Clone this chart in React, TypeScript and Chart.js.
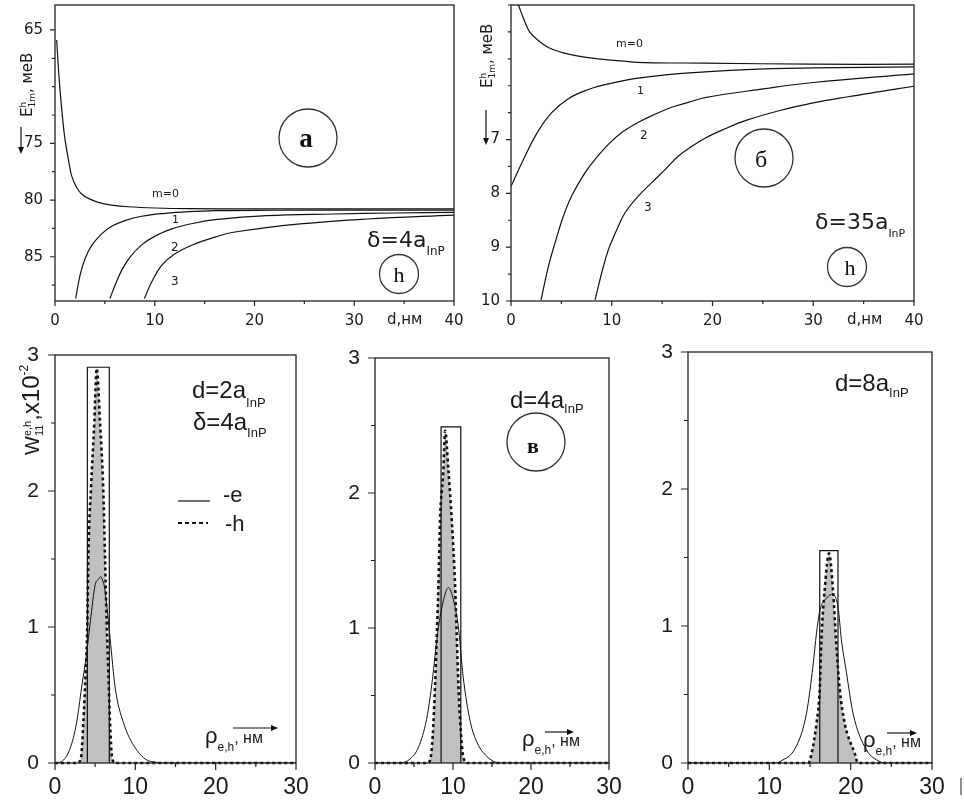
import React, { useEffect, useRef } from 'react';
import { Chart, registerables } from 'chart.js';
Chart.register(...registerables);

// ---------------- Panel (a): delta = 4a_InP ----------------
const aXLabels = [0, 10, 20, 30, 40];
const aYLabels = [65, 75, 80, 85];
const aM0D = [0.17, 0.33, 0.5, 0.74, 1.0, 1.34, 1.67, 2.17, 2.67, 3.34, 4.34, 5.68, 7.35, 10.03, 13.37, 20, 30, 40];
const aM0E = [65.88, 68.22, 70.26, 72.6, 74.65, 76.4, 77.87, 78.89, 79.47, 79.85, 80.2, 80.44, 80.59, 80.7, 80.76, 80.78, 80.78, 80.78];
const aM1D = [2.07, 2.51, 3.01, 3.68, 4.68, 5.68, 7.02, 8.69, 11.03, 13.37, 16.04, 22, 30, 40];
const aM1E = [88.68, 86.64, 85.18, 84.0, 82.98, 82.31, 81.81, 81.43, 81.17, 81.02, 80.93, 80.9, 80.88, 80.88];
const aM2D = [5.51, 6.02, 6.68, 7.52, 8.69, 10.03, 11.7, 14.04, 16.04, 21.2, 27.9, 34, 40];
const aM2E = [88.68, 87.52, 86.2, 85.03, 83.95, 83.18, 82.54, 82.02, 81.73, 81.38, 81.23, 81.14, 81.08];
const aM3D = [8.96, 9.69, 10.69, 12.03, 14.04, 16.04, 17.88, 24.56, 31.25, 40];
const aM3E = [88.68, 87.22, 85.76, 84.74, 83.86, 83.27, 82.84, 82.1, 81.67, 81.32];

// ---------------- Panel (б): delta = 35a_InP ----------------
const bXLabels = [0, 10, 20, 30, 40];
const bYLabels = [7, 8, 9, 10];
const bM0D = [0.73, 1.06, 1.39, 1.89, 2.71, 3.7, 5.03, 6.68, 8.67, 10.99, 13.3, 19.26, 30, 40];
const bM0E = [4.5, 4.66, 4.82, 5.01, 5.16, 5.29, 5.38, 5.45, 5.5, 5.54, 5.57, 5.58, 5.6, 5.6];
const bM1D = [0, 1.39, 2.71, 4.04, 5.69, 7.67, 9.33, 12.6, 17, 23.4, 30, 40];
const bM1E = [7.87, 7.31, 6.84, 6.5, 6.24, 6.07, 5.98, 5.86, 5.77, 5.7, 5.67, 5.65];
const bM2D = [2.98, 3.71, 4.37, 5.19, 6.02, 7.34, 8.34, 9.66, 10.99, 12.64, 14.29, 15.95, 17.6, 19.26, 25, 30, 40];
const bM2E = [9.98, 9.36, 8.92, 8.43, 8.05, 7.62, 7.37, 7.09, 6.87, 6.68, 6.53, 6.4, 6.31, 6.22, 6.06, 5.94, 5.78];
const bM3D = [8.34, 9.0, 9.66, 10.49, 11.32, 12.64, 13.97, 15.29, 16.6, 18, 19.3, 21, 23.4, 26.7, 30, 33.3, 36.6, 40];
const bM3E = [9.98, 9.48, 9.05, 8.68, 8.36, 8.05, 7.8, 7.56, 7.31, 7.12, 6.97, 6.82, 6.64, 6.46, 6.32, 6.21, 6.11, 6.01];

// ---------------- Bottom panels: W11 e,h ----------------
const wXLabels = [0, 10, 20, 30];
const wYLabels = [0, 1, 2, 3];

// d = 2a_InP
const c1ER = [0, 0.8, 1.9, 2.7, 3.3, 3.9, 4.4, 5.0, 5.4, 5.7, 6.0, 6.2, 6.85, 7.5, 8.5, 10, 12, 15, 30];
const c1EW = [0, 0.01, 0.11, 0.3, 0.55, 0.79, 1.04, 1.31, 1.35, 1.37, 1.33, 1.28, 0.92, 0.55, 0.3, 0.11, 0.01, 0, 0];
const c1HR = [0, 2.8, 3.24, 3.53, 3.82, 4.03, 4.15, 4.48, 4.9, 5.19, 5.6, 6.0, 6.22, 6.43, 6.64, 6.85, 7.1, 7.5, 30];
const c1HW = [0, 0, 0.04, 0.3, 0.67, 1.04, 1.53, 2.02, 2.51, 2.9, 2.51, 2.02, 1.53, 1.04, 0.67, 0.3, 0.04, 0, 0];
const c1Rect = [4.03, 6.76];
const c1RectTop = 2.91;

// d = 4a_InP
const c2ER = [0, 3.0, 4.5, 5.6, 6.6, 7.1, 7.5, 7.9, 8.2, 8.8, 9.4, 10.05, 10.7, 11.3, 12.2, 13.1, 14.5, 16, 30];
const c2EW = [0, 0, 0.03, 0.12, 0.32, 0.5, 0.69, 0.9, 1.03, 1.21, 1.3, 1.21, 1.0, 0.64, 0.31, 0.15, 0.04, 0, 0];
const c2HR = [0, 6.7, 7.06, 7.4, 7.7, 7.92, 8.13, 8.34, 8.77, 8.99, 9.41, 9.84, 10.27, 10.48, 10.7, 11.04, 11.3, 11.9, 30];
const c2HW = [0, 0, 0.02, 0.2, 0.57, 0.94, 1.31, 1.8, 2.17, 2.46, 2.17, 1.8, 1.31, 0.94, 0.57, 0.2, 0.05, 0, 0];
const c2Rect = [8.47, 11.0];
const c2RectTop = 2.49;

// d = 8a_InP
const c3ER = [0, 10.9, 11.3, 13.3, 14.56, 15.37, 15.8, 16.2, 17.0, 17.63, 18.44, 18.86, 19.48, 20.3, 21.9, 23.6, 24.5, 30];
const c3EW = [0, 0, 0.01, 0.12, 0.36, 0.71, 0.95, 1.11, 1.2, 1.23, 1.14, 0.9, 0.66, 0.36, 0.1, 0.01, 0, 0];
const c3HR = [0, 14.8, 15.2, 15.8, 16.2, 16.4, 16.8, 17.34, 17.83, 18.2, 18.65, 19.27, 20.5, 20.9, 30];
const c3HW = [0, 0, 0.07, 0.29, 0.54, 0.9, 1.26, 1.53, 1.26, 0.9, 0.54, 0.29, 0.07, 0, 0];
const c3Rect = [16.2, 18.44];
const c3RectTop = 1.55;

// ---------------- helpers ----------------
const SANS = '"Liberation Sans", Arial, sans-serif';
const DJV = '"DejaVu Sans", sans-serif';
const SERIF = '"Liberation Serif", "Times New Roman", serif';
const INK = '#1a1a1a';

const pts = (xs: number[], ys: number[]) => xs.map((x, i) => ({ x, y: ys[i] }));
const rectPts = (r: number[], top: number) => [
  { x: r[0], y: 0 }, { x: r[0], y: top }, { x: r[1], y: top }, { x: r[1], y: 0 },
];

const curve = (xs: number[], ys: number[]) => ({
  data: pts(xs, ys), borderColor: '#111', borderWidth: 1.2, pointRadius: 0,
  fill: false, tension: 0.4,
});

const wSets = (eR: number[], eW: number[], hR: number[], hW: number[], rect: number[], top: number) => [
  { data: pts(hR, hW), borderColor: '#111', borderWidth: 2.6, borderDash: [3, 3], pointRadius: 0, fill: false, cubicInterpolationMode: 'monotone', clip: 4 },
  { data: rectPts(rect, top), borderColor: '#111', borderWidth: 1.2, pointRadius: 0, fill: false, tension: 0 },
  { data: pts(eR, eW), borderColor: '#111', borderWidth: 1, pointRadius: 0, fill: false, cubicInterpolationMode: 'monotone' },
  { data: pts(hR, hW), borderColor: 'rgba(0,0,0,0)', borderWidth: 0, backgroundColor: '#c0c0c0', pointRadius: 0, fill: 'origin', cubicInterpolationMode: 'monotone' },
];

type Box = { left: number; top: number; width: number; height: number };
type Frame = { l: number; t: number; r: number; b: number };
type PanelProps = {
  box: Box; frame: Frame; datasets: any[];
  x: [number, number, number]; y: [number, number, number]; reverse?: boolean;
  xLabels: number[]; yLabels: number[];
  font: string; xSize: number; ySize: number; xPad: number; yPad: number;
  major: number; minor: number;
};

function Panel(p: PanelProps) {
  const ref = useRef<HTMLCanvasElement>(null);
  useEffect(() => {
    const { box, frame } = p;
    const yW = frame.l - box.left;
    const xH = box.top + box.height - frame.b;
    const padTop = frame.t - box.top;
    const padRight = box.left + box.width - frame.r;
    const isX = (v: number) => p.xLabels.some((l) => Math.abs(l - v) < 1e-6);
    const isY = (v: number) => p.yLabels.some((l) => Math.abs(l - v) < 1e-6);
    const frameTicks = {
      id: 'frameTicks',
      afterDatasetsDraw(chart: any) {
        const { ctx, chartArea: a, scales } = chart;
        ctx.save();
        ctx.strokeStyle = '#222';
        ctx.lineWidth = 1.3;
        ctx.setLineDash([]);
        ctx.strokeRect(a.left, a.top, a.right - a.left, a.bottom - a.top);
        ctx.lineWidth = 1.2;
        ctx.beginPath();
        for (const t of scales.x.ticks) {
          const px = scales.x.getPixelForValue(t.value);
          const len = isX(t.value) ? p.major : p.minor;
          ctx.moveTo(px, a.bottom);
          ctx.lineTo(px, a.bottom + len);
        }
        for (const t of scales.y.ticks) {
          const py = scales.y.getPixelForValue(t.value);
          const len = isY(t.value) ? p.major : p.minor;
          ctx.moveTo(a.left, py);
          ctx.lineTo(a.left - len, py);
        }
        ctx.stroke();
        ctx.restore();
      },
    };
    const chart = new Chart(ref.current as HTMLCanvasElement, {
      type: 'line',
      data: { datasets: p.datasets },
      options: {
        animation: false,
        responsive: false,
        maintainAspectRatio: false,
        devicePixelRatio: 1,
        layout: { padding: { top: padTop, right: padRight, left: 0, bottom: 0 } },
        plugins: { legend: { display: false }, tooltip: { enabled: false } },
        elements: { point: { radius: 0 } },
        scales: {
          x: {
            type: 'linear', min: p.x[0], max: p.x[1],
            grid: { display: false, drawTicks: false },
            border: { display: false },
            ticks: {
              stepSize: p.x[2], includeBounds: false, autoSkip: false, maxRotation: 0, maxTicksLimit: 100,
              padding: p.xPad, color: INK, font: { family: p.font, size: p.xSize },
              callback: (v: any) => (isX(Number(v)) ? String(v) : ''),
            },
            afterFit: (s: any) => { s.height = xH; s.paddingLeft = 0; s.paddingRight = 0; },
          },
          y: {
            type: 'linear', min: p.y[0], max: p.y[1], reverse: !!p.reverse,
            grid: { display: false, drawTicks: false },
            border: { display: false },
            ticks: {
              stepSize: p.y[2], includeBounds: false, autoSkip: false, maxTicksLimit: 100,
              padding: p.yPad, color: INK, font: { family: p.font, size: p.ySize },
              callback: (v: any) => (isY(Number(v)) ? String(v) : ''),
            },
            afterFit: (s: any) => { s.width = yW; s.paddingTop = 0; s.paddingBottom = 0; },
          },
        },
      } as any,
      plugins: [frameTicks],
    });
    return () => chart.destroy();
  }, []);
  return (
    <canvas
      ref={ref}
      width={p.box.width}
      height={p.box.height}
      style={{ position: 'absolute', left: p.box.left, top: p.box.top, width: p.box.width, height: p.box.height }}
    />
  );
}

function Txt(props: { x: number; base: number; size: number; font?: string; weight?: any; color?: string; children: any }) {
  const font = props.font || SANS;
  const asc = font === SERIF ? 0.8375 : 0.8465;
  return (
    <div style={{
      position: 'absolute', left: props.x, top: props.base - asc * props.size,
      fontSize: props.size, fontFamily: font, fontWeight: props.weight || 400,
      lineHeight: 1, whiteSpace: 'nowrap', color: props.color || INK,
    }}>{props.children}</div>
  );
}

function Letter(props: { cx: number; base: number; size: number; weight?: any; children: any }) {
  return (
    <div style={{
      position: 'absolute', left: props.cx - 30, width: 60, textAlign: 'center',
      top: props.base - 0.8375 * props.size, fontSize: props.size, fontFamily: SERIF,
      fontWeight: props.weight || 400, lineHeight: 1, color: '#111', whiteSpace: 'nowrap',
    }}>{props.children}</div>
  );
}

const Sub = (props: { size: number; drop: number; children: any }) => (
  <span style={{ fontSize: props.size, verticalAlign: `${-props.drop}px` }}>{props.children}</span>
);
const Sup = (props: { size: number; raise: number; children: any }) => (
  <span style={{ fontSize: props.size, verticalAlign: `${props.raise}px` }}>{props.children}</span>
);
const Stack = (props: { sup: string; sub: string; size: number; raise: number }) => (
  <span style={{
    display: 'inline-flex', flexDirection: 'column', fontSize: props.size,
    lineHeight: `${props.size * 1.05}px`, verticalAlign: `${props.raise}px`,
  }}>
    <span>{props.sup}</span>
    <span>{props.sub}</span>
  </span>
);

function RotTxt(props: { xBase: number; yStart: number; size: number; font?: string; children: any }) {
  return (
    <div style={{
      position: 'absolute', left: props.xBase - 1.0465 * props.size, top: props.yStart,
      transformOrigin: '0 0', transform: 'rotate(-90deg)', fontSize: props.size,
      fontFamily: props.font || SANS, lineHeight: 1.4, whiteSpace: 'nowrap', color: INK,
    }}>{props.children}</div>
  );
}

const Arrow = (props: { x1: number; y1: number; x2: number; y2: number }) => {
  const { x1, y1, x2, y2 } = props;
  const ang = Math.atan2(y2 - y1, x2 - x1);
  const hl = 7, hw = 3;
  const bx = x2 - hl * Math.cos(ang), by = y2 - hl * Math.sin(ang);
  const nx = -Math.sin(ang) * hw, ny = Math.cos(ang) * hw;
  return (
    <g>
      <line x1={x1} y1={y1} x2={bx} y2={by} stroke="#111" strokeWidth={1.2} />
      <polygon points={`${x2},${y2} ${bx + nx},${by + ny} ${bx - nx},${by - ny}`} fill="#111" />
    </g>
  );
};

export default function App() {
  const topCommon = { font: DJV, xSize: 15, ySize: 15, xPad: 11, major: 5, minor: 3 };
  const botCommon = { font: SANS, xSize: 23, ySize: 21, xPad: 11, major: 7, minor: 4 };
  return (
    <div style={{ position: 'absolute', left: 0, top: 0, width: 964, height: 801, background: '#fff', overflow: 'hidden' }}>
      <Panel
        {...topCommon}
        box={{ left: 0, top: 0, width: 470, height: 330 }}
        frame={{ l: 55, t: 5, r: 454, b: 301 }}
        datasets={[curve(aM0D, aM0E), curve(aM1D, aM1E), curve(aM2D, aM2E), curve(aM3D, aM3E)]}
        x={[0, 40, 5]} y={[62.8, 88.9, 2.5]} reverse
        xLabels={aXLabels} yLabels={aYLabels} yPad={12}
      />
      <Panel
        {...topCommon}
        box={{ left: 470, top: 0, width: 494, height: 330 }}
        frame={{ l: 511, t: 5, r: 914, b: 301 }}
        datasets={[curve(bM0D, bM0E), curve(bM1D, bM1E), curve(bM2D, bM2E), curve(bM3D, bM3E)]}
        x={[0, 40, 5]} y={[4.5, 10, 0.5]} reverse
        xLabels={bXLabels} yLabels={bYLabels} yPad={11}
      />
      <Panel
        {...botCommon}
        box={{ left: 0, top: 330, width: 320, height: 471 }}
        frame={{ l: 55, t: 355, r: 296, b: 763 }}
        datasets={wSets(c1ER, c1EW, c1HR, c1HW, c1Rect, c1RectTop)}
        x={[0, 30, 5]} y={[0, 3, 0.5]}
        xLabels={wXLabels} yLabels={wYLabels} yPad={16}
      />
      <Panel
        {...botCommon}
        box={{ left: 320, top: 330, width: 320, height: 471 }}
        frame={{ l: 375, t: 358, r: 609, b: 763 }}
        datasets={wSets(c2ER, c2EW, c2HR, c2HW, c2Rect, c2RectTop)}
        x={[0, 30, 5]} y={[0, 3, 0.5]}
        xLabels={wXLabels} yLabels={wYLabels} yPad={15}
      />
      <Panel
        {...botCommon}
        box={{ left: 640, top: 330, width: 324, height: 471 }}
        frame={{ l: 688, t: 352, r: 932, b: 763 }}
        datasets={wSets(c3ER, c3EW, c3HR, c3HW, c3Rect, c3RectTop)}
        x={[0, 30, 5]} y={[0, 3, 0.5]}
        xLabels={wXLabels} yLabels={wYLabels} yPad={15}
      />

      <svg width={964} height={801} style={{ position: 'absolute', left: 0, top: 0, pointerEvents: 'none' }}>
        <circle cx={308} cy={138} r={29} fill="none" stroke="#333" strokeWidth={1.3} />
        <circle cx={399} cy={274} r={19.5} fill="none" stroke="#333" strokeWidth={1.3} />
        <circle cx={764} cy={158} r={29} fill="none" stroke="#333" strokeWidth={1.3} />
        <circle cx={847} cy={267} r={19.5} fill="none" stroke="#333" strokeWidth={1.3} />
        <circle cx={536} cy={442} r={29} fill="none" stroke="#333" strokeWidth={1.3} />
        <Arrow x1={21} y1={127} x2={21} y2={154} />
        <Arrow x1={486} y1={110} x2={486} y2={145} />
        <Arrow x1={233} y1={728} x2={278} y2={728} />
        <Arrow x1={545} y1={732} x2={574} y2={732} />
        <Arrow x1={887} y1={733} x2={917} y2={733} />
        <line x1={178} y1={501} x2={210} y2={501} stroke="#111" strokeWidth={1.2} />
        <line x1={178} y1={523} x2={208} y2={523} stroke="#111" strokeWidth={2} strokeDasharray="4 3" />
        <line x1={961} y1={778} x2={961} y2={795} stroke="#444" strokeWidth={1.2} />
      </svg>

      {/* Panel a texts */}
      <RotTxt xBase={33} yStart={117} size={15} font={DJV}>
        E<Stack sup="h" sub="1m" size={9} raise={6} />, меВ
      </RotTxt>
      <Txt x={152} base={197} size={11} font={DJV}>m=0</Txt>
      <Txt x={172} base={223} size={11} font={DJV}>1</Txt>
      <Txt x={171} base={251} size={12} font={DJV}>2</Txt>
      <Txt x={171} base={285} size={12} font={DJV}>3</Txt>
      <Txt x={367} base={248} size={22} font={DJV}>δ=4a<Sub size={12} drop={8}>InP</Sub></Txt>
      <Txt x={387} base={325} size={15} font={DJV}>d,нм</Txt>
      <Letter cx={306} base={148} size={27} weight={700}>a</Letter>
      <Letter cx={399} base={282} size={22}>h</Letter>

      {/* Panel б texts */}
      <RotTxt xBase={493} yStart={88} size={15} font={DJV}>
        E<Stack sup="h" sub="1m" size={9} raise={6} />, меВ
      </RotTxt>
      <Txt x={616} base={47} size={11} font={DJV}>m=0</Txt>
      <Txt x={637} base={94} size={11} font={DJV}>1</Txt>
      <Txt x={640} base={139} size={12} font={DJV}>2</Txt>
      <Txt x={644} base={211} size={12} font={DJV}>3</Txt>
      <Txt x={815} base={230} size={22} font={DJV}>δ=35a<Sub size={11} drop={8}>InP</Sub></Txt>
      <Txt x={847} base={325} size={15} font={DJV}>d,нм</Txt>
      <Letter cx={761} base={167} size={24}>б</Letter>
      <Letter cx={850} base={275} size={22}>h</Letter>

      {/* Bottom panel texts */}
      <RotTxt xBase={35} yStart={455} size={20}>
        W<Stack sup="e,h" sub="11" size={11} raise={8} /><span style={{ fontSize: 24 }}>,x10</span><Sup size={12} raise={11}>-2</Sup>
      </RotTxt>
      <Txt x={192} base={398} size={24}>d=2a<Sub size={13} drop={9}>InP</Sub></Txt>
      <Txt x={193} base={430} size={24}>δ=4a<Sub size={13} drop={7}>InP</Sub></Txt>
      <Txt x={223} base={503} size={22}>-e</Txt>
      <Txt x={225} base={532} size={22}>-h</Txt>
      <Txt x={205} base={744} size={22}>ρ<Sub size={12} drop={8}>e,h</Sub><span style={{ fontSize: 16 }}>,&nbsp;нм</span></Txt>

      <Txt x={510} base={408} size={24}>d=4a<Sub size={13} drop={5}>InP</Sub></Txt>
      <Letter cx={533} base={453} size={22} weight={700}>в</Letter>
      <Txt x={522} base={747} size={22}>ρ<Sub size={12} drop={8}>e,h</Sub><span style={{ fontSize: 16 }}>,&nbsp;нм</span></Txt>

      <Txt x={835} base={391} size={24}>d=8a<Sub size={13} drop={6}>InP</Sub></Txt>
      <Txt x={863} base={748} size={22}>ρ<Sub size={12} drop={8}>e,h</Sub><span style={{ fontSize: 16 }}>,&nbsp;нм</span></Txt>
    </div>
  );
}
